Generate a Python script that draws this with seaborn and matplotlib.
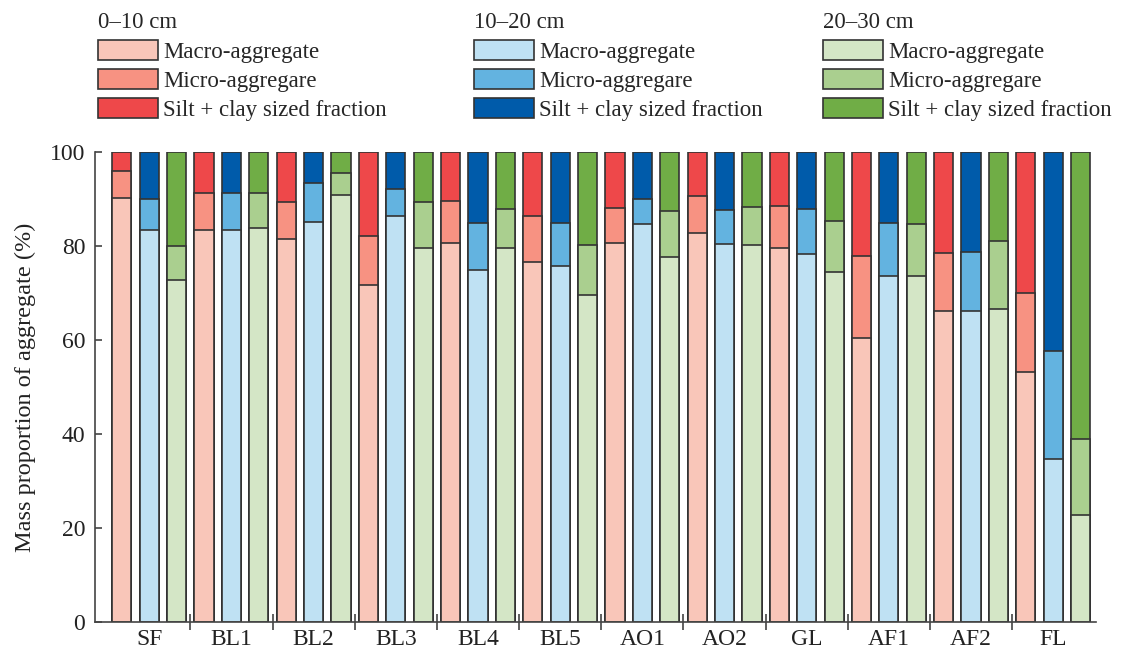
import pandas as pd
import seaborn as sns
import matplotlib.pyplot as plt
from matplotlib.patches import Patch

sites = ['SF', 'BL1', 'BL2', 'BL3', 'BL4', 'BL5', 'AO1', 'AO2', 'GL', 'AF1', 'AF2', 'FL']
depths = ['0–10 cm', '10–20 cm', '20–30 cm']

# macro-aggregate and micro-aggregate shares (%)
macro_0_10 = [90.2, 83.3, 81.4, 71.8, 80.6, 76.7, 80.6, 82.7, 79.6, 60.5, 66.1, 53.1]
micro_0_10 = [5.8, 7.9, 7.9, 10.4, 9.0, 9.6, 7.5, 8.0, 8.9, 17.4, 12.5, 16.8]
macro_10_20 = [83.3, 83.3, 85.1, 86.3, 74.9, 75.7, 84.6, 80.5, 78.3, 73.7, 66.1, 34.7]
micro_10_20 = [6.6, 8.0, 8.2, 5.8, 10.1, 9.3, 5.5, 7.1, 9.5, 11.2, 12.6, 23.0]
macro_20_30 = [72.7, 83.8, 90.9, 79.5, 79.5, 69.5, 77.6, 80.2, 74.5, 73.7, 66.6, 22.8]
micro_20_30 = [7.2, 7.5, 4.6, 9.8, 8.4, 10.7, 9.8, 8.0, 10.9, 10.9, 14.4, 16.1]

legend_labels = ['Macro-aggregate', 'Micro-aggregare', 'Silt + clay sized fraction']
light = ['#F9C6B9', '#BFE1F3', '#D4E6C6']
medium = ['#F79282', '#63B3E0', '#AACF8F']
dark = ['#EE484A', '#005BAA', '#70AD46']

rows = []
for depth, macro, micro in [(depths[0], macro_0_10, micro_0_10),
                            (depths[1], macro_10_20, micro_10_20),
                            (depths[2], macro_20_30, micro_20_30)]:
    for s, ma, mi in zip(sites, macro, micro):
        rows.append({'site': s, 'depth': depth, 'macro': ma, 'micro': mi})
df = pd.DataFrame(rows)
df['silt'] = 100 - df['macro'] - df['micro']
df['top_micro'] = df['macro'] + df['micro']
df['top_silt'] = df['top_micro'] + df['silt']

sns.set_style('ticks')
plt.rcParams['font.family'] = ['Liberation Serif', 'DejaVu Serif']

fig = plt.figure(figsize=(11.24, 6.55), dpi=100)
ax = fig.add_axes([95 / 1124, 1 - 622 / 655, 1001 / 1124, 470 / 655])

edge = dict(edgecolor='#333333', linewidth=1.2)
for col, pal in [('top_silt', dark), ('top_micro', medium), ('macro', light)]:
    sns.barplot(data=df, x='site', y=col, hue='depth', order=sites, hue_order=depths,
                palette=pal, saturation=1, width=1.0, gap=0.3, errorbar=None,
                legend=False, ax=ax, **edge)

ax.set_xlim(-0.66, 11.52)
ax.set_ylim(0, 100)
ax.set_yticks([0, 20, 40, 60, 80, 100])
ax.set_xlabel('')
ax.set_ylabel('Mass proportion of aggregate (%)', fontsize=17.5, color='#222222', labelpad=10)
ax.set_xticks([i + 0.5 for i in range(len(sites) - 1)], minor=True)
ax.tick_params(axis='x', which='major', length=0, labelsize=17, pad=5, colors='#222222')
ax.tick_params(axis='x', which='minor', direction='inout', length=12, width=1.2, color='#444444')
ax.tick_params(axis='y', direction='in', length=5, width=1.2, labelsize=17, color='#444444',
               labelcolor='#222222', pad=7)
for side in ['top', 'right']:
    ax.spines[side].set_visible(False)
for side in ['left', 'bottom']:
    ax.spines[side].set_linewidth(1.2)
    ax.spines[side].set_color('#444444')

legend_x = [98 / 1124, 474 / 1124, 823 / 1124]
for i, depth in enumerate(depths):
    handles = [Patch(facecolor=c[i], **edge) for c in (light, medium, dark)]
    fig.legend(handles, legend_labels, title=depth, loc='upper left',
               bbox_to_anchor=(legend_x[i], 0.981), frameon=False, fontsize=16.5,
               title_fontsize=16.5, alignment='left', handlelength=2.6, handleheight=0.96,
               handletextpad=0.25, labelspacing=0.28, borderpad=0, borderaxespad=0)

fig.savefig('out.png', dpi=100)
